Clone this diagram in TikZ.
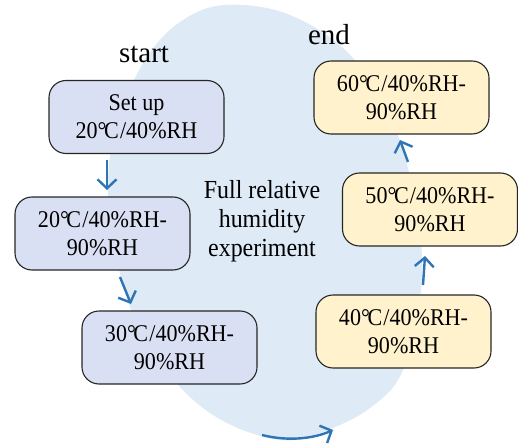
\documentclass[tikz,border=0pt]{standalone}
\usepackage{fontspec}
\setmainfont{Liberation Serif}
\newfontfamily\narrowserif[FakeStretch=0.92]{Liberation Serif}
\usetikzlibrary{arrows.meta}
\definecolor{blobblue}{HTML}{DEEAF6}
\definecolor{boxblue}{HTML}{DAE0F3}
\definecolor{boxyellow}{HTML}{FFF2CC}
\definecolor{arrowblue}{HTML}{2E75B6}
\newcommand\degc{°\kern-0.1em C\kern0.05em}
\begin{document}
\begin{tikzpicture}[x=1pt,y=-1pt,
  stagebox/.style={draw=black!85, line width=1.1pt, rounded corners=17pt,
    minimum width=175pt, minimum height=73pt, inner sep=0pt, align=center,
    font=\narrowserif\fontsize{24}{28}\selectfont},
  coolbox/.style={stagebox, fill=boxblue},
  warmbox/.style={stagebox, fill=boxyellow},
  flow/.style={draw=arrowblue, line width=2.4pt, -{Straight Barb[length=9pt,width=19pt]}},
  heading/.style={font=\fontsize{29}{32}\selectfont, anchor=base}]
\useasboundingbox (0,0) rectangle (518,446);

% background loop
\fill[blobblue] plot[smooth cycle, tension=0.6] coordinates {
  (225,5) (290,15) (353,58) (397,133) (418,220) (421,290) (403,370)
  (370,408) (320,433) (280,440) (225,422) (180,387) (140,330)
  (118,265) (108,185) (118,120) (145,60) (180,22)};

% headings and centre label
\node[heading] (startlbl) at (144,63) {start};
\node[heading] (endlbl) at (329,45) {end};
\node[align=center, font=\narrowserif\fontsize{26}{29}\selectfont] (title) at (262,221)
  {Full relative\\humidity\\experiment};

% stages
\node[coolbox] (setup) at (136.5,117) {Set up\\20\degc/40\%RH};
\node[coolbox] (s20) at (102.5,233.5) {20\degc/40\%RH-\\90\%RH};
\node[coolbox] (s30) at (169.5,347.5) {30\degc/40\%RH-\\90\%RH};
\node[warmbox] (s40) at (403.5,331.5) {40\degc/40\%RH-\\90\%RH};
\node[warmbox] (s50) at (430,209.5) {50\degc/40\%RH-\\90\%RH};
\node[warmbox] (s60) at (401.5,97.5) {60\degc/40\%RH-\\90\%RH};

% arrow end points
\coordinate (a1s) at (107,160); \coordinate (a1e) at (107,190);
\coordinate (a2s) at (120,277); \coordinate (a2e) at (131,304);
\coordinate (a3s) at (262,435); \coordinate (a3e) at (333,430);
\coordinate (a4s) at (423,285); \coordinate (a4e) at (425,256);
\coordinate (a5s) at (408,162); \coordinate (a5e) at (400,140);

\draw[flow] (a1s) -- (a1e);
\draw[flow] (a2s) -- (a2e);
\draw[flow] (a3s) .. controls (290,442) and (315,438) .. (a3e);
\draw[flow] (a4s) -- (a4e);
\draw[flow] (a5s) -- (a5e);
\end{tikzpicture}
\end{document}
